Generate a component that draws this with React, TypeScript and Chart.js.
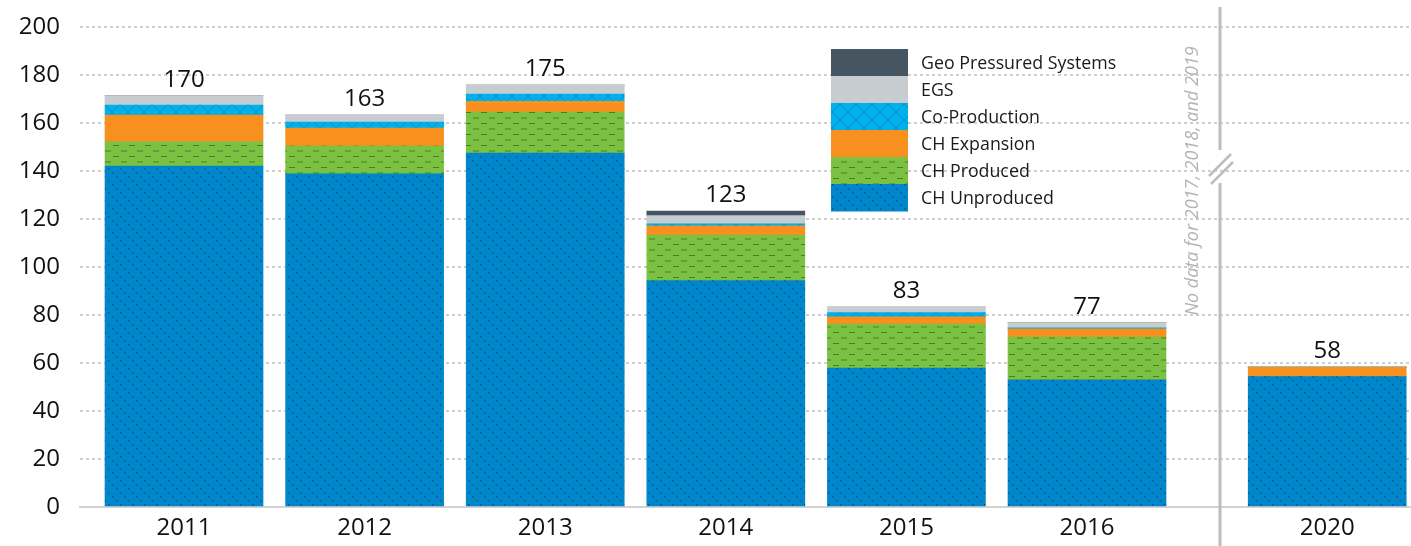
import React, { useEffect, useRef } from "react";
import { Chart, registerables } from "chart.js";

Chart.register(...registerables);

// ---------- data ----------
const years = ["2011", "2012", "2013", "2014", "2015", "2016", "2020"];
const yearPositions = [0, 1, 2, 3, 4, 5, 6.33];
const totalLabels = ["170", "163", "175", "123", "83", "77", "58"];

const chUnproduced = [142.1, 138.8, 147.5, 94.3, 57.9, 53.0, 54.3];
const chProduced = [10.1, 11.6, 17.1, 19.0, 18.3, 17.8, 0];
const chExpansion = [11.1, 7.5, 4.4, 3.9, 3.0, 3.4, 4.0];
const coProduction = [4.2, 2.5, 3.1, 0.8, 1.8, 0.5, 0];
const egs = [3.8, 2.9, 3.7, 3.4, 2.3, 2.0, 0];
const geoPressured = [0, 0, 0, 1.9, 0, 0, 0];

const seriesNames = [
  "CH Unproduced",
  "CH Produced",
  "CH Expansion",
  "Co-Production",
  "EGS",
  "Geo Pressured Systems",
];
const yMin = 0;
const yMax = 200;
const yStep = 20;
const noDataNote = "No data for 2017, 2018, and 2019";
const breakPosition = 5.735;
const notePosition = 5.585;

const FONT = "'Open Sans', 'Noto Sans', sans-serif";

function makePattern(kind: string, base: string): CanvasPattern | string {
  const c = document.createElement("canvas");
  const ctx = c.getContext("2d");
  if (!ctx) return base;
  if (kind === "dots") {
    c.width = 12;
    c.height = 12;
    ctx.fillStyle = base;
    ctx.fillRect(0, 0, 12, 12);
    ctx.fillStyle = "rgba(15,55,95,0.65)";
    [[0, 0], [4, 4], [8, 8]].forEach(([x, y]) => ctx.fillRect(x, y, 1.5, 1.5));
  } else if (kind === "dashes") {
    c.width = 16;
    c.height = 11;
    ctx.fillStyle = base;
    ctx.fillRect(0, 0, 16, 11);
    ctx.strokeStyle = "rgba(60,100,35,0.75)";
    ctx.lineWidth = 1.2;
    ctx.beginPath();
    ctx.moveTo(1, 2.5);
    ctx.lineTo(7, 2.5);
    ctx.moveTo(9, 8);
    ctx.lineTo(15, 8);
    ctx.stroke();
  } else if (kind === "cross") {
    c.width = 16;
    c.height = 16;
    ctx.fillStyle = base;
    ctx.fillRect(0, 0, 16, 16);
    ctx.strokeStyle = "rgba(20,110,170,0.55)";
    ctx.lineWidth = 1;
    ctx.beginPath();
    ctx.moveTo(0, 0);
    ctx.lineTo(16, 16);
    ctx.moveTo(16, 0);
    ctx.lineTo(0, 16);
    ctx.stroke();
  } else {
    return base;
  }
  return ctx.createPattern(c, "repeat") || base;
}

export default function App() {
  const ref = useRef<HTMLCanvasElement | null>(null);

  useEffect(() => {
    document.body.style.margin = "0";
    const canvas = ref.current;
    if (!canvas) return;

    const fills = [
      makePattern("dots", "#0086CA"),
      makePattern("dashes", "#7CC242"),
      "#F7901E",
      makePattern("cross", "#00B1EB"),
      "#C6CCCF",
      "#465562",
    ];
    const seriesData = [chUnproduced, chProduced, chExpansion, coProduction, egs, geoPressured];

    const datasets = seriesData.map((arr, i) => ({
      label: seriesNames[i],
      data: arr.map((v, j) => ({ x: yearPositions[j], y: v })),
      backgroundColor: fills[i] as any,
      borderWidth: 0,
      barThickness: 158,
    }));

    const overlay = {
      id: "overlay",
      afterDatasetsDraw(chart: any) {
        const { ctx } = chart;
        const xs = chart.scales.x;
        const ys = chart.scales.y;
        ctx.save();
        // totals
        ctx.font = `24px ${FONT}`;
        ctx.fillStyle = "#111";
        ctx.textAlign = "center";
        ctx.textBaseline = "alphabetic";
        yearPositions.forEach((p, j) => {
          const sum = seriesData.reduce((a, s) => a + s[j], 0);
          ctx.fillText(totalLabels[j], xs.getPixelForValue(p), ys.getPixelForValue(sum) - 9);
        });

        // divider with axis break
        const dx = Math.round(xs.getPixelForValue(breakPosition));
        ctx.strokeStyle = "#bdbdbd";
        ctx.lineWidth = 3;
        ctx.beginPath();
        ctx.moveTo(dx, 7);
        ctx.lineTo(dx, 150);
        ctx.moveTo(dx, 183);
        ctx.lineTo(dx, chart.height);
        ctx.stroke();
        ctx.lineWidth = 2.5;
        ctx.beginPath();
        ctx.moveTo(dx - 11, 176);
        ctx.lineTo(dx + 11, 154);
        ctx.moveTo(dx - 9, 184);
        ctx.lineTo(dx + 13, 162);
        ctx.stroke();

        // rotated note
        ctx.save();
        ctx.translate(xs.getPixelForValue(notePosition), 181);
        ctx.rotate(-Math.PI / 2);
        ctx.font = `italic 18px ${FONT}`;
        ctx.fillStyle = "#b3b3b3";
        ctx.textAlign = "center";
        ctx.textBaseline = "middle";
        ctx.fillText(noDataNote, 0, 0);
        ctx.restore();

        // legend
        const lx = 831;
        const ly = 49;
        const rowH = 27;
        ctx.font = `17.8px ${FONT}`;
        ctx.textAlign = "left";
        ctx.textBaseline = "middle";
        for (let k = 0; k < seriesNames.length; k++) {
          const i = seriesNames.length - 1 - k;
          const top = ly + k * rowH;
          ctx.fillStyle = fills[i] as any;
          ctx.fillRect(lx, top, 77, rowH + 0.5);
          ctx.fillStyle = "#1a1a1a";
          ctx.fillText(seriesNames[i], 921, top + rowH / 2 + 1);
        }
        ctx.restore();
      },
    };

    const chart = new Chart(canvas, {
      type: "bar",
      data: { datasets },
      options: {
        animation: false,
        responsive: false,
        maintainAspectRatio: false,
        layout: { padding: { top: 27, left: 0, right: 0, bottom: 0 } },
        plugins: { legend: { display: false }, tooltip: { enabled: false } },
        scales: {
          x: {
            type: "linear",
            stacked: true,
            offset: false,
            min: -0.576,
            max: 6.794,
            afterBuildTicks: (scale: any) => {
              scale.ticks = yearPositions.map((v) => ({ value: v }));
            },
            afterFit: (scale: any) => {
              scale.height = 39;
            },
            ticks: {
              autoSkip: false,
              maxRotation: 0,
              padding: 7,
              color: "#111",
              font: { family: FONT, size: 24 },
              callback: (v: any) => {
                const idx = yearPositions.findIndex((p) => Math.abs(p - Number(v)) < 0.01);
                return idx >= 0 ? years[idx] : "";
              },
            },
            grid: { display: false, drawTicks: false, offset: false },
            border: { display: true, color: "#d2d2d2", width: 2 },
          },
          y: {
            stacked: true,
            min: yMin,
            max: yMax,
            afterFit: (scale: any) => {
              scale.width = 80;
              scale.paddingTop = 8;
              scale.paddingBottom = 8;
            },
            ticks: {
              stepSize: yStep,
              padding: 20,
              color: "#111",
              font: { family: FONT, size: 24 },
            },
            grid: { color: "#cfcfcf", lineWidth: 2, drawTicks: false },
            border: { display: false, dash: [3, 3] },
          },
        },
      },
      plugins: [overlay],
    });

    return () => chart.destroy();
  }, []);

  return (
    <div style={{ width: 1411, height: 546 }}>
      <canvas ref={ref} width={1411} height={546} style={{ display: "block" }} />
    </div>
  );
}
